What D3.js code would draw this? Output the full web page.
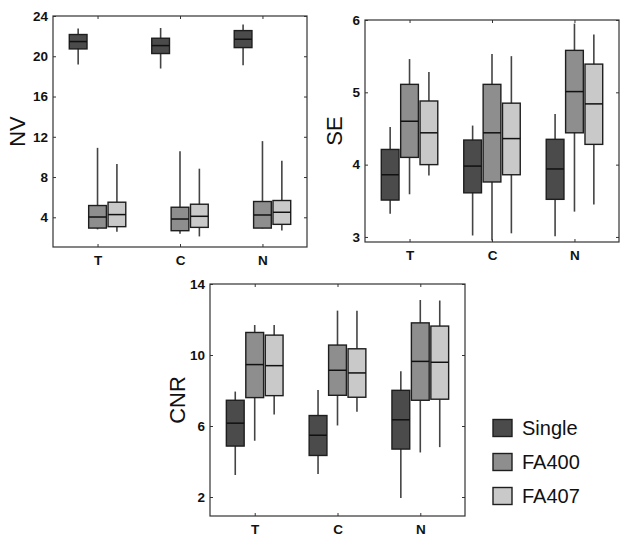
<!DOCTYPE html>
<html><head><meta charset="utf-8">
<script src="https://cdn.jsdelivr.net/npm/d3@7"></script>
<style>body{margin:0;background:#fff}svg{display:block}</style>
</head><body>
<script>
const categories = ["T", "C", "N"];
const seriesNames = ["Single", "FA400", "FA407"];
const seriesColors = ["#4b4b4b", "#8e8e8e", "#c9c9c9"];

// each box: [whiskerLow, q1, median, q3, whiskerHigh]; order: category -> series
const nvBoxes = [
  [[19.17, 20.73, 21.46, 22.16, 22.75], [2.8, 2.93, 4.03, 5.17, 10.9], [2.57, 3.07, 4.27, 5.5, 9.3]],
  [[18.78, 20.27, 21.06, 21.79, 22.81], [2.37, 2.67, 3.83, 5.0, 10.57], [2.1, 3.0, 4.1, 5.3, 8.83]],
  [[19.1, 20.86, 21.69, 22.55, 23.15], [2.9, 2.93, 4.23, 5.57, 11.57], [2.7, 3.3, 4.5, 5.67, 9.63]]
];
const seBoxes = [
  [[3.32, 3.51, 3.86, 4.21, 4.52], [3.59, 4.10, 4.60, 5.11, 5.46], [3.85, 4.0, 4.44, 4.88, 5.28]],
  [[3.02, 3.61, 3.98, 4.34, 4.54], [2.95, 3.76, 4.44, 5.11, 5.53], [3.05, 3.86, 4.36, 4.85, 5.50]],
  [[3.01, 3.52, 3.94, 4.35, 4.70], [3.35, 4.44, 5.01, 5.58, 5.95], [3.45, 4.28, 4.84, 5.39, 5.80]]
];
const cnrBoxes = [
  [[3.24, 4.87, 6.16, 7.45, 7.94], [5.17, 7.60, 9.46, 11.27, 11.69], [6.65, 7.71, 9.40, 11.12, 11.69]],
  [[3.30, 4.34, 5.48, 6.59, 8.03], [6.03, 7.73, 9.14, 10.56, 12.5], [6.80, 7.62, 8.99, 10.35, 12.5]],
  [[1.94, 4.70, 6.35, 8.01, 9.08], [4.51, 7.45, 9.64, 11.81, 13.1], [4.81, 7.51, 9.59, 11.63, 13.07]]
];

const nvTicks = [4, 8, 12, 16, 20, 24];
const seTicks = [3, 4, 5, 6];
const cnrTicks = [2, 6, 10, 14];

const panels = [
  {title: "NV", boxes: nvBoxes, ticks: nvTicks, yDomain: [1.05, 24], left: 53, right: 307, top: 16, bottom: 247, titleX: 17},
  {title: "SE", boxes: seBoxes, ticks: seTicks, yDomain: [2.93, 6], left: 365, right: 619, top: 20, bottom: 242, titleX: 334},
  {title: "CNR", boxes: cnrBoxes, ticks: cnrTicks, yDomain: [0.93, 14], left: 210, right: 465, top: 284, bottom: 516, titleX: 177}
];

const W = 629, H = 541;
const svg = d3.select("body").append("svg").attr("width", W).attr("height", H)
  .style("font-family", "'Liberation Sans', Arial, sans-serif");

const offsets = [-0.235, 0, 0.235];
const boxW = 0.215;
const tickLen = 3;

panels.forEach(p => {
  const x = d3.scaleLinear().domain([0.46, 3.54]).range([p.left, p.right]);
  const y = d3.scaleLinear().domain(p.yDomain).range([p.bottom, p.top]);
  const g = svg.append("g");
  const bw = x(boxW) - x(0);

  // axes with inward ticks
  const axL = d3.axisLeft(y).tickValues(p.ticks).tickSize(-tickLen).tickPadding(5).tickFormat(d3.format("d"));
  const axR = d3.axisRight(y).tickValues(p.ticks).tickSize(-tickLen).tickFormat("");
  const axB = d3.axisBottom(x).tickValues([1, 2, 3]).tickSize(-tickLen).tickPadding(7).tickFormat((d, i) => categories[i]);
  const axT = d3.axisTop(x).tickValues([1, 2, 3]).tickSize(-tickLen).tickFormat("");
  const gl = g.append("g").attr("transform", `translate(${p.left},0)`).call(axL);
  const gr = g.append("g").attr("transform", `translate(${p.right},0)`).call(axR);
  const gb = g.append("g").attr("transform", `translate(0,${p.bottom})`).call(axB);
  const gt = g.append("g").attr("transform", `translate(0,${p.top})`).call(axT);
  [gl, gr, gb, gt].forEach(a => {
    a.select(".domain").remove();
    a.selectAll("line").attr("stroke", "#333").attr("stroke-width", 1);
    a.selectAll("text").attr("fill", "#111").style("font-size", "13.5px").style("font-weight", "bold")
      .style("font-family", "'Liberation Sans', Arial, sans-serif");
  });
  gb.selectAll("text").attr("dy", "0.85em");

  g.append("rect").attr("x", p.left).attr("y", p.top)
    .attr("width", p.right - p.left).attr("height", p.bottom - p.top)
    .attr("fill", "none").attr("stroke", "#333").attr("stroke-width", 1.2);

  p.boxes.forEach((cat, ci) => {
    cat.forEach((b, si) => {
      const cx = x(ci + 1 + offsets[si]);
      const bg = g.append("g");
      bg.append("line").attr("x1", cx).attr("x2", cx).attr("y1", y(b[0])).attr("y2", y(b[4]))
        .attr("stroke", "#444").attr("stroke-width", 1.6);
      bg.append("rect").attr("x", cx - bw / 2).attr("width", bw)
        .attr("y", y(b[3])).attr("height", y(b[1]) - y(b[3]))
        .attr("fill", seriesColors[si]).attr("stroke", "#1e1e1e").attr("stroke-width", 1.4);
      bg.append("line").attr("x1", cx - bw / 2).attr("x2", cx + bw / 2).attr("y1", y(b[2])).attr("y2", y(b[2]))
        .attr("stroke", "#111").attr("stroke-width", 1.5);
    });
  });

  svg.append("text").attr("transform", `translate(${p.titleX},${(p.top + p.bottom) / 2}) rotate(-90)`)
    .attr("text-anchor", "middle").attr("dy", "0.35em")
    .style("font-size", "22px").attr("fill", "#111").text(p.title);
});

// legend
const legY = d3.scalePoint().domain(seriesNames).range([428, 496]);
const leg = svg.append("g");
seriesNames.forEach((s, i) => {
  leg.append("rect").attr("x", 493).attr("y", legY(s) - 8.5).attr("width", 19).attr("height", 17)
    .attr("fill", seriesColors[i]).attr("stroke", "#1e1e1e").attr("stroke-width", 1.4);
  leg.append("text").attr("x", 522).attr("y", legY(s)).attr("dy", "0.36em")
    .style("font-size", "20px").attr("fill", "#111").text(s);
});
</script>
</body></html>
